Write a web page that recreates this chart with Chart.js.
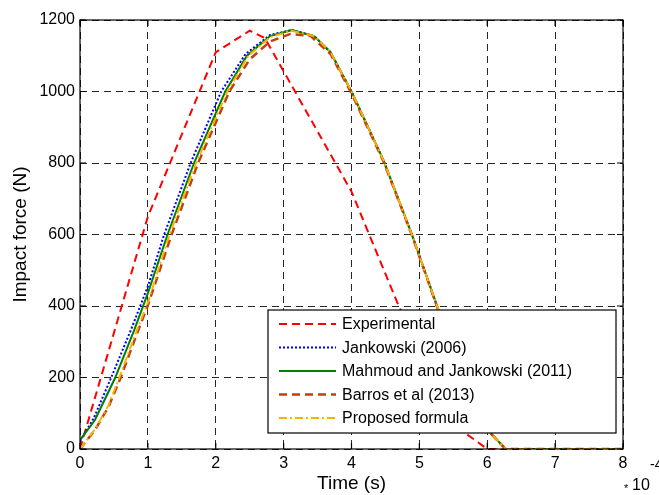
<!DOCTYPE html>
<html>
<head>
<meta charset="utf-8">
<script src="https://cdn.jsdelivr.net/npm/chart.js@4.4.1/dist/chart.umd.min.js"></script>
<style>
  body { margin: 0; background: #fff; }
  canvas { display: block; }
</style>
</head>
<body>
<canvas id="impactChart" width="659" height="495"></canvas>
<script>
// Time axis is in units of 1e-4 s
const xTicks = [0, 1, 2, 3, 4, 5, 6, 7, 8];
const yTicks = [0, 200, 400, 600, 800, 1000, 1200];

const expT = [0, 1, 2, 2.5, 2.72, 2.85, 4, 4.7, 5.68, 6, 8];
const expF = [0, 650, 1110, 1170, 1150, 1107, 720, 398, 44, 0, 0];

const jankT = [0, 0.2, 0.46, 0.75, 1, 1.24, 1.63, 2.08, 2.44, 2.8, 3.12, 3.45, 3.69, 4, 4.47, 4.89, 5.26, 5.55, 5.8, 6.05, 6.27, 8];
const jankF = [22, 85, 200, 333, 455, 600, 800, 1000, 1105, 1158, 1172, 1155, 1110, 1000, 808, 600, 400, 250, 130, 44, 0, 0];

const mahT = [0, 0.22, 0.52, 0.8, 1, 1.29, 1.68, 2.14, 2.46, 2.8, 3.12, 3.45, 3.69, 4, 4.47, 4.89, 5.26, 5.55, 5.8, 6.05, 6.27, 8];
const mahF = [25, 81, 200, 333, 436, 600, 800, 1000, 1100, 1155, 1172, 1155, 1110, 1000, 808, 600, 400, 250, 130, 44, 0, 0];

const barT = [0, 0.22, 0.42, 0.6, 0.86, 1, 1.35, 1.74, 2.2, 2.5, 2.8, 3.1, 3.4, 3.69, 4, 4.47, 4.89, 5.26, 5.55, 5.8, 6.05, 6.27, 8];
const barF = [0, 53, 118, 200, 333, 402, 600, 800, 1000, 1090, 1140, 1161, 1155, 1105, 995, 805, 598, 398, 248, 128, 44, 0, 0];

const propT = [0, 0.22, 0.42, 0.58, 0.84, 1, 1.32, 1.71, 2.17, 2.48, 2.8, 3.12, 3.45, 3.69, 4, 4.47, 4.89, 5.26, 5.55, 5.8, 6.05, 6.27, 8];
const propF = [0, 55, 122, 200, 333, 410, 600, 800, 1000, 1100, 1152, 1170, 1155, 1110, 1000, 808, 600, 400, 250, 130, 44, 0, 0];

const labels = ['Experimental', 'Jankowski (2006)', 'Mahmoud and Jankowski (2011)', 'Barros et al (2013)', 'Proposed formula'];

function pts(ts, fs) {
    return ts.map((t, i) => ({ x: t, y: fs[i] }));
}

const FONT = 'Liberation Sans, Arial, sans-serif';

// legend box drawn inside the plot, MATLAB style
const boxLegend = {
    id: 'boxLegend',
    afterDatasetsDraw(chart) {
        const ctx = chart.ctx;
        const x0 = 268, y0 = 310, w = 348, h = 123;
        ctx.save();
        ctx.fillStyle = '#fff';
        ctx.fillRect(x0, y0, w, h);
        ctx.lineWidth = 1.2;
        ctx.strokeStyle = '#000';
        ctx.setLineDash([]);
        ctx.strokeRect(x0, y0, w, h);
        ctx.font = '16px ' + FONT;
        ctx.textBaseline = 'middle';
        chart.data.datasets.forEach((ds, i) => {
            const y = 324 + i * 23.5;
            ctx.beginPath();
            ctx.strokeStyle = ds.borderColor;
            ctx.lineWidth = ds.borderWidth;
            ctx.setLineDash(ds.borderDash || []);
            ctx.moveTo(279, y);
            ctx.lineTo(336, y);
            ctx.stroke();
            ctx.setLineDash([]);
            ctx.fillStyle = '#000';
            ctx.fillText(ds.label, 342, y + 1);
        });
        ctx.restore();
    }
};

// solid box and inward ticks on all sides, plus exponent note
const frame = {
    id: 'frame',
    afterDraw(chart) {
        const ctx = chart.ctx;
        const a = chart.chartArea;
        const xs = chart.scales.x, ys = chart.scales.y;
        ctx.save();
        ctx.strokeStyle = '#000';
        ctx.lineWidth = 1.2;
        ctx.setLineDash([]);
        ctx.strokeRect(a.left, a.top, a.right - a.left, a.bottom - a.top);
        ctx.beginPath();
        xTicks.forEach(v => {
            const px = xs.getPixelForValue(v);
            ctx.moveTo(px, a.bottom); ctx.lineTo(px, a.bottom - 6);
            ctx.moveTo(px, a.top); ctx.lineTo(px, a.top + 6);
        });
        yTicks.forEach(v => {
            const py = ys.getPixelForValue(v);
            ctx.moveTo(a.left, py); ctx.lineTo(a.left + 6, py);
            ctx.moveTo(a.right, py); ctx.lineTo(a.right - 6, py);
        });
        ctx.stroke();
        ctx.fillStyle = '#000';
        ctx.textBaseline = 'middle';
        ctx.font = '11px ' + FONT;
        ctx.fillText('*', 624, 489);
        ctx.font = '16px ' + FONT;
        ctx.fillText('10', 632, 486);
        ctx.font = '14px ' + FONT;
        ctx.fillText('-4', 650, 465);
        ctx.restore();
    }
};

const ctx = document.getElementById('impactChart').getContext('2d');
const impactChart = new Chart(ctx, {
    type: 'line',
    data: {
        datasets: [
            {
                label: labels[0],
                data: pts(expT, expF),
                borderColor: '#ff0000',
                borderWidth: 2,
                borderDash: [8, 5],
                order: 5
            },
            {
                label: labels[1],
                data: pts(jankT, jankF),
                borderColor: '#0000ff',
                borderWidth: 2,
                borderDash: [2, 2],
                order: 4
            },
            {
                label: labels[2],
                data: pts(mahT, mahF),
                borderColor: '#008000',
                borderWidth: 2,
                order: 3
            },
            {
                label: labels[3],
                data: pts(barT, barF),
                borderColor: '#c0400e',
                borderWidth: 2.5,
                borderDash: [8, 5],
                order: 2
            },
            {
                label: labels[4],
                data: pts(propT, propF),
                borderColor: '#ffb000',
                borderWidth: 2,
                borderDash: [8, 3, 2, 3],
                order: 1
            }
        ]
    },
    options: {
        responsive: false,
        animation: false,
        devicePixelRatio: 1,
        elements: {
            point: { radius: 0 },
            line: { tension: 0, fill: false }
        },
        layout: {
            padding: { top: 20, right: 36, left: 0, bottom: 0 }
        },
        plugins: {
            legend: { display: false },
            tooltip: { enabled: false }
        },
        scales: {
            x: {
                type: 'linear',
                min: 0,
                max: 8,
                afterFit: s => { s.height = 46; },
                afterBuildTicks: s => { s.ticks = xTicks.map(v => ({ value: v })); },
                ticks: {
                    color: '#000',
                    padding: 5,
                    maxRotation: 0,
                    font: { family: FONT, size: 16 },
                    callback: v => String(v)
                },
                grid: {
                    color: 'rgba(0,0,0,0.85)',
                    lineWidth: 1,
                    drawTicks: false
                },
                border: { display: false, dash: [7, 5] },
                title: {
                    display: true,
                    text: 'Time (s)',
                    color: '#000',
                    padding: { top: 0, bottom: 0 },
                    font: { family: FONT, size: 19 }
                }
            },
            y: {
                type: 'linear',
                min: 0,
                max: 1200,
                afterFit: s => { s.width = 80; },
                afterBuildTicks: s => { s.ticks = yTicks.map(v => ({ value: v })); },
                ticks: {
                    color: '#000',
                    padding: 5,
                    font: { family: FONT, size: 16 },
                    callback: v => String(v)
                },
                grid: {
                    color: 'rgba(0,0,0,0.85)',
                    lineWidth: 1,
                    drawTicks: false
                },
                border: { display: false, dash: [7, 5] },
                title: {
                    display: true,
                    text: 'Impact force (N)',
                    color: '#000',
                    padding: { top: 9, bottom: 0 },
                    font: { family: FONT, size: 19 }
                }
            }
        }
    },
    plugins: [boxLegend, frame]
});
</script>
</body>
</html>
